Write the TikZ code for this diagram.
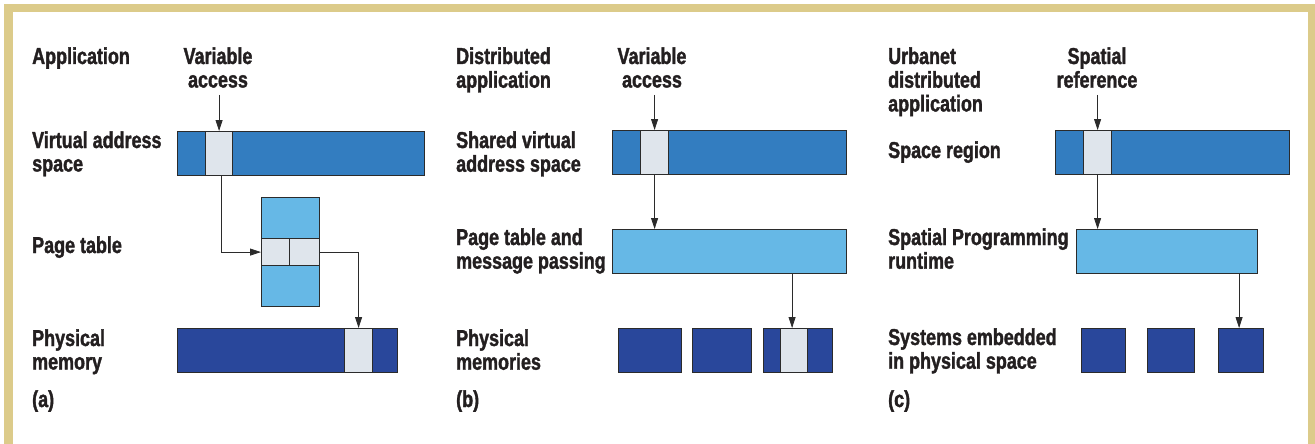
\documentclass[tikz,border=0pt]{standalone}
\usepackage{fontspec}
\setmainfont{Liberation Sans}[FakeStretch=0.78,BoldFeatures={FakeBold=1.5}]
\usetikzlibrary{arrows.meta}
\definecolor{tan}{HTML}{DCCB8A}
\definecolor{midblue}{HTML}{337DC0}
\definecolor{lightblue}{HTML}{66B8E6}
\definecolor{darkblue}{HTML}{29479B}
\definecolor{cellgray}{HTML}{DFE5EC}
\definecolor{edge}{HTML}{2B2B2B}
\definecolor{ink}{HTML}{231F20}
\newcommand\lbl[1]{\begin{tabular}[t]{@{}l@{}}#1\end{tabular}}
\newcommand\clbl[1]{\begin{tabular}[t]{@{}c@{}}#1\end{tabular}}
\begin{document}
\begin{tikzpicture}[x=1pt,y=-1pt,
  txt/.style={inner sep=0pt,anchor=base west,text=ink,font=\fontsize{23}{23.5}\selectfont\bfseries},
  ctxt/.style={inner sep=0pt,anchor=base,text=ink,font=\fontsize{23}{23.5}\selectfont\bfseries},
  box/.style={draw=edge,line width=1.2pt,inner sep=0pt,anchor=north west,minimum width=#1},
  bar/.style={box=#1,fill=midblue,minimum height=44pt},
  pbar/.style={box=#1,fill=lightblue,minimum height=44pt},
  mem/.style={box=#1,fill=darkblue,minimum height=44pt},
  cell/.style={box=#1,fill=cellgray,minimum height=44pt},
  arr/.style={draw=edge,line width=0.8pt,-{Triangle[length=11pt,width=7pt]}}
]
\useasboundingbox (0,0) rectangle (1315,444);
\fill[white] (0,0) rectangle (1315,444);
% frame
\fill[tan] (4,4) rectangle (1315,12);
\fill[tan] (4,4) rectangle (13,444);
\fill[tan] (1308,4) rectangle (1315,444);

% ---------- panel (a)
\node[txt] (aApp) at (32,64) {\lbl{Application}};
\node[ctxt] (aVar) at (218,64) {\clbl{Variable\\access}};
\node[txt] (aVas) at (32,148) {\lbl{Virtual address\\space}};
\node[txt] (aPt) at (32,253) {\lbl{Page table}};
\node[txt] (aPm) at (32,346) {\lbl{Physical\\memory}};
\node[txt] (aLab) at (32,407) {\lbl{(a)}};

\node[bar=247pt] (aBar) at (177,131) {};
\node[cell=27pt] (aCell) at (205,131) {};
\node[box=58pt,fill=lightblue,minimum height=109pt] (aTab) at (261,197) {};
\node[box=28pt,fill=cellgray,minimum height=27pt] (aTL) at (261,238) {};
\node[box=30pt,fill=cellgray,minimum height=27pt] (aTR) at (289,238) {};
\node[mem=220pt] (aMem) at (177,328) {};
\node[cell=28pt] (aMcell) at (344,328) {};

\draw[arr] (aCell.north |- aVar.south) -- (aCell.north);
\draw[arr] ([xshift=2pt]aCell.south) |- (aTL.west);
\draw[arr] (aTR.east) -| (aMcell.north);

% ---------- panel (b)
\node[txt] (bApp) at (456,64) {\lbl{Distributed\\application}};
\node[ctxt] (bVar) at (652,64) {\clbl{Variable\\access}};
\node[txt] (bVas) at (456,148) {\lbl{Shared virtual\\address space}};
\node[txt] (bPt) at (456,245) {\lbl{Page table and\\message passing}};
\node[txt] (bPm) at (456,346) {\lbl{Physical\\memories}};
\node[txt] (bLab) at (456,407) {\lbl{(b)}};

\node[bar=234pt] (bBar) at (612,130) {};
\node[cell=28pt] (bCell) at (640,130) {};
\node[pbar=234pt] (bPage) at (612,229) {};
\node[mem=63pt] (bM1) at (618,328) {};
\node[mem=59pt] (bM2) at (692,328) {};
\node[mem=69pt] (bM3) at (763,328) {};
\node[cell=27pt] (bMcell) at (780,328) {};

\draw[arr] (bCell.north |- bVar.south) -- (bCell.north);
\draw[arr] (bCell.south) -- (bCell.south |- bPage.north);
\draw[arr] ([xshift=-2pt]bMcell.north |- bPage.south) -- ([xshift=-2pt]bMcell.north);

% ---------- panel (c)
\node[txt] (cApp) at (888,64) {\lbl{Urbanet\\distributed\\application}};
\node[ctxt] (cVar) at (1097,64) {\clbl{Spatial\\reference}};
\node[txt] (cSr) at (888,158) {\lbl{Space region}};
\node[txt] (cRt) at (888,245) {\lbl{Spatial Programming\\runtime}};
\node[txt] (cSys) at (888,345) {\lbl{Systems embedded\\in physical space}};
\node[txt] (cLab) at (888,407) {\lbl{(c)}};

\node[bar=234pt] (cBar) at (1055,130) {};
\node[cell=28pt] (cCell) at (1083,130) {};
\node[pbar=181pt] (cRun) at (1076,229) {};
\node[mem=44pt] (cS1) at (1081,328) {};
\node[mem=47pt] (cS2) at (1147,328) {};
\node[mem=45pt] (cS3) at (1218,328) {};

\draw[arr] (cCell.north |- cVar.south) -- (cCell.north);
\draw[arr] (cCell.south) -- (cCell.south |- cRun.north);
\draw[arr] ([xshift=-2pt]cS3.north |- cRun.south) -- ([xshift=-2pt]cS3.north);
\end{tikzpicture}
\end{document}
